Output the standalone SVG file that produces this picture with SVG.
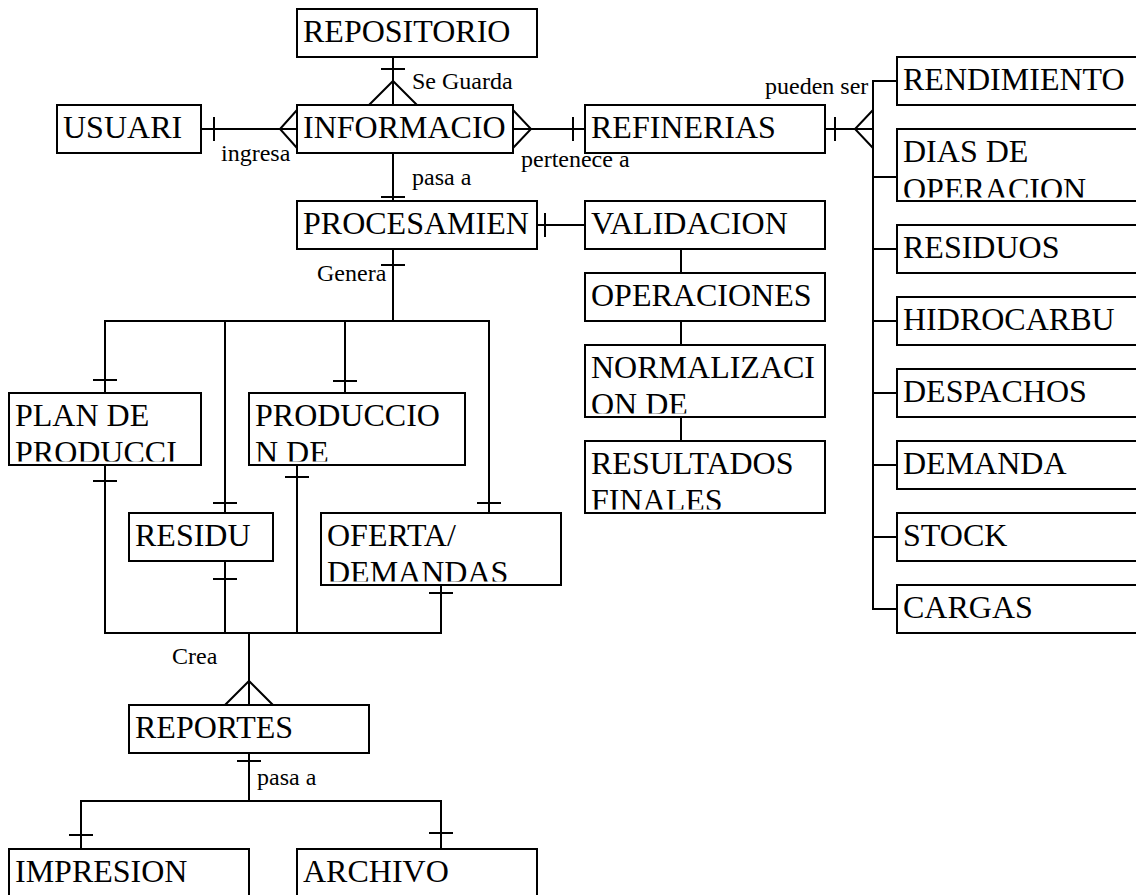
<svg xmlns="http://www.w3.org/2000/svg" width="1136" height="895" viewBox="0 0 1136 895">
  <style>
    .box { fill: #fff; stroke: #000; stroke-width: 2; }
    .t { font-family: "Liberation Serif", "Times New Roman", serif; font-size: 32px; fill: #000; }
    .lbl { font-family: "Liberation Serif", "Times New Roman", serif; font-size: 24px; fill: #000; }
    #connectors path { fill: none; stroke: #000; stroke-width: 2; }
  </style>
  <defs>
    <!-- two-line boxes cut their text off at the inner bottom edge -->
    <clipPath id="clip-dias"><rect x="897" y="129" width="240" height="68.5"/></clipPath>
    <clipPath id="clip-norm"><rect x="585" y="345" width="240" height="68.5"/></clipPath>
    <clipPath id="clip-res"><rect x="585" y="441" width="240" height="68.5"/></clipPath>
    <clipPath id="clip-plan"><rect x="9" y="393" width="192" height="68.5"/></clipPath>
    <clipPath id="clip-prod"><rect x="249" y="393" width="216" height="68.5"/></clipPath>
    <clipPath id="clip-ofer"><rect x="321" y="513" width="240" height="68.5"/></clipPath>
  </defs>
  <rect width="1136" height="895" fill="#fff"/>

  <!-- connectors: relationship lines, bars and crow's feet -->
  <g id="connectors">
    <path d="M393 57V105"/>
    <path d="M381 69H405"/>
    <path d="M369 105L393 81L417 105"/>
    <path d="M201 129H297"/>
    <path d="M214 117V141"/>
    <path d="M297 110L280 129L297 148"/>
    <path d="M513 129H585"/>
    <path d="M513 110L531 129L513 148"/>
    <path d="M573 117V141"/>
    <path d="M393 153V201"/>
    <path d="M381 197H405"/>
    <path d="M825 129H873"/>
    <path d="M835 117V141"/>
    <path d="M873 110L855 129L873 148"/>
    <path d="M897 81H873V609H897"/>
    <path d="M873 177H897"/>
    <path d="M873 249H897"/>
    <path d="M873 321H897"/>
    <path d="M873 393H897"/>
    <path d="M873 465H897"/>
    <path d="M873 537H897"/>
    <path d="M537 225H585"/>
    <path d="M545 213V237"/>
    <path d="M681 249V273"/>
    <path d="M681 321V345"/>
    <path d="M681 417V441"/>
    <path d="M393 249V321"/>
    <path d="M381 265H405"/>
    <path d="M105 393V321H489V513"/>
    <path d="M225 321V513"/>
    <path d="M345 321V393"/>
    <path d="M93 380H117"/>
    <path d="M213 503H237"/>
    <path d="M333 381H357"/>
    <path d="M477 503H501"/>
    <path d="M105 465V633H441V585"/>
    <path d="M225 561V633"/>
    <path d="M297 465V633"/>
    <path d="M93 481H117"/>
    <path d="M213 579H237"/>
    <path d="M285 477H309"/>
    <path d="M429 593H453"/>
    <path d="M249 633V705"/>
    <path d="M225 705L249 681L273 705"/>
    <path d="M249 753V801"/>
    <path d="M237 761H261"/>
    <path d="M81 849V801H441V849"/>
    <path d="M69 835H93"/>
    <path d="M429 833H453"/>
  </g>

  <!-- relationship labels -->
  <g id="labels">
    <text class="lbl" x="412" y="89">Se Guarda</text>
    <text class="lbl" x="221" y="161">ingresa</text>
    <text class="lbl" x="521" y="167">pertenece a</text>
    <text class="lbl" x="412" y="185">pasa a</text>
    <text class="lbl" x="765" y="94">pueden ser</text>
    <text class="lbl" x="317" y="281">Genera</text>
    <text class="lbl" x="172" y="664">Crea</text>
    <text class="lbl" x="257" y="785">pasa a</text>
  </g>

  <!-- entities -->
  <g id="repositorio"><rect class="box" x="297" y="9" width="240" height="48"/><text class="t" x="303" y="42">REPOSITORIO</text></g>
  <g id="usuari"><rect class="box" x="57" y="105" width="144" height="48"/><text class="t" x="63" y="138">USUARI</text></g>
  <g id="informacio"><rect class="box" x="297" y="105" width="216" height="48"/><text class="t" x="303" y="138">INFORMACIO</text></g>
  <g id="refinerias"><rect class="box" x="585" y="105" width="240" height="48"/><text class="t" x="591" y="138">REFINERIAS</text></g>

  <g id="rendimiento"><rect class="box" x="897" y="57" width="260" height="48"/><text class="t" x="903" y="90">RENDIMIENTO</text></g>
  <g id="dias-operacion"><rect class="box" x="897" y="129" width="260" height="72"/><text class="t" clip-path="url(#clip-dias)" x="903" y="162">DIAS DE<tspan x="903" dy="37.5">OPERACION</tspan></text></g>
  <g id="residuos"><rect class="box" x="897" y="225" width="260" height="48"/><text class="t" x="903" y="258">RESIDUOS</text></g>
  <g id="hidrocarbu"><rect class="box" x="897" y="297" width="260" height="48"/><text class="t" x="903" y="330">HIDROCARBU</text></g>
  <g id="despachos"><rect class="box" x="897" y="369" width="260" height="48"/><text class="t" x="903" y="402">DESPACHOS</text></g>
  <g id="demanda"><rect class="box" x="897" y="441" width="260" height="48"/><text class="t" x="903" y="474">DEMANDA</text></g>
  <g id="stock"><rect class="box" x="897" y="513" width="260" height="48"/><text class="t" x="903" y="546">STOCK</text></g>
  <g id="cargas"><rect class="box" x="897" y="585" width="260" height="48"/><text class="t" x="903" y="618">CARGAS</text></g>

  <g id="procesamien"><rect class="box" x="297" y="201" width="240" height="48"/><text class="t" x="303" y="234">PROCESAMIEN</text></g>
  <g id="validacion"><rect class="box" x="585" y="201" width="240" height="48"/><text class="t" x="591" y="234">VALIDACION</text></g>
  <g id="operaciones"><rect class="box" x="585" y="273" width="240" height="48"/><text class="t" x="591" y="306">OPERACIONES</text></g>
  <g id="normalizacion"><rect class="box" x="585" y="345" width="240" height="72"/><text class="t" clip-path="url(#clip-norm)" x="591" y="377.5">NORMALIZACI<tspan x="591" dy="37.5">ON DE</tspan></text></g>
  <g id="resultados"><rect class="box" x="585" y="441" width="240" height="72"/><text class="t" clip-path="url(#clip-res)" x="591" y="473.5">RESULTADOS<tspan x="591" dy="37.5">FINALES</tspan></text></g>

  <g id="plan-produccion"><rect class="box" x="9" y="393" width="192" height="72"/><text class="t" clip-path="url(#clip-plan)" x="15" y="425.5">PLAN DE<tspan x="15" dy="37.5">PRODUCCI</tspan></text></g>
  <g id="produccion"><rect class="box" x="249" y="393" width="216" height="72"/><text class="t" clip-path="url(#clip-prod)" x="255" y="425.5">PRODUCCIO<tspan x="255" dy="37.5">N DE</tspan></text></g>
  <g id="residu"><rect class="box" x="129" y="513" width="144" height="48"/><text class="t" x="135" y="546">RESIDU</text></g>
  <g id="oferta-demandas"><rect class="box" x="321" y="513" width="240" height="72"/><text class="t" clip-path="url(#clip-ofer)" x="327" y="545.5">OFERTA/<tspan x="327" dy="37">DEMANDAS</tspan></text></g>

  <g id="reportes"><rect class="box" x="129" y="705" width="240" height="48"/><text class="t" x="135" y="738">REPORTES</text></g>
  <g id="impresion"><rect class="box" x="9" y="849" width="240" height="70"/><text class="t" x="15" y="882">IMPRESION</text></g>
  <g id="archivo"><rect class="box" x="297" y="849" width="240" height="70"/><text class="t" x="303" y="882">ARCHIVO</text></g>
</svg>
